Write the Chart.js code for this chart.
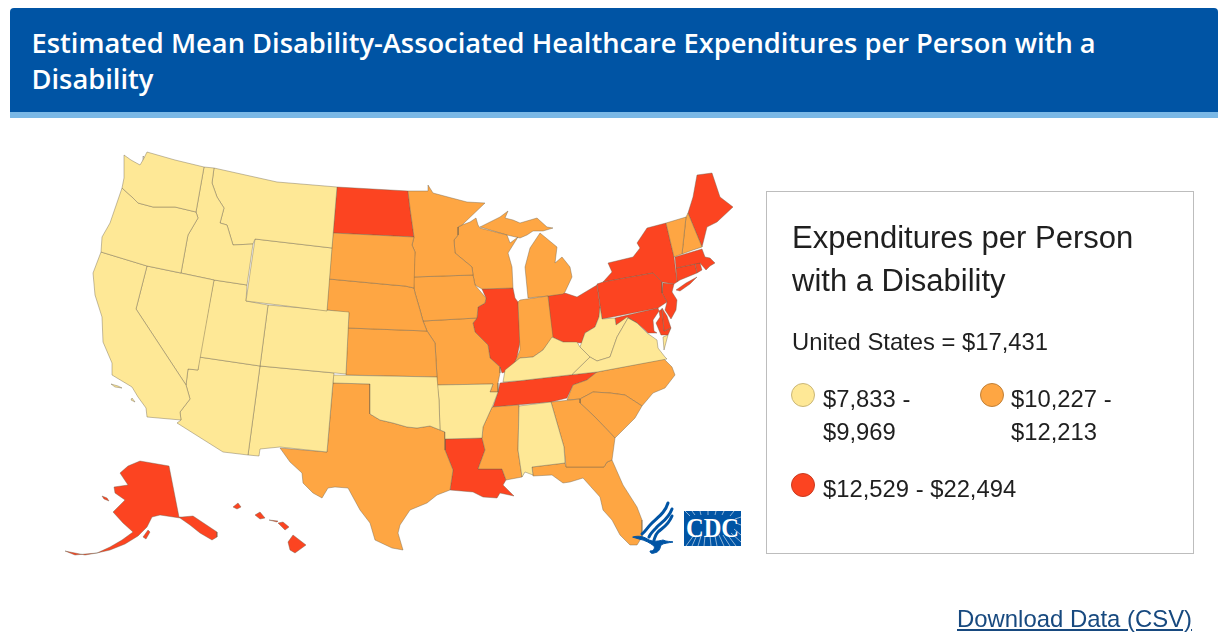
<!DOCTYPE html>
<html>
<head>
<meta charset="utf-8">
<title>Estimated Mean Disability-Associated Healthcare Expenditures per Person with a Disability</title>
<script src="https://cdn.jsdelivr.net/npm/chart.js@4/dist/chart.umd.min.js"></script>
<style>
html, body { margin: 0; padding: 0; background: #fff; width: 1228px; height: 642px; overflow: hidden; }
#map { position: absolute; left: 0; top: 0; width: 1228px; height: 642px; }
#banner { position: absolute; left: 10px; top: 8px; width: 1208px; height: 104px; background: #0054a4; border-bottom: 6px solid #7ab8e6; border-radius: 4px 4px 0 0; color: #fff; font: 600 27.3px/36px "Open Sans", sans-serif; }
#banner div { position: absolute; left: 21.5px; top: 17px; width: 1130px; }
#legend { position: absolute; left: 766px; top: 191px; width: 426px; height: 361px; border: 1px solid #bdbdbd; color: #1f1f1f; font-family: "Liberation Sans", sans-serif; }
#legendTitle { position: absolute; left: 25px; top: 24px; font-size: 31px; line-height: 43px; white-space: nowrap; }
#usValue { position: absolute; left: 25px; top: 135px; font-size: 23.8px; line-height: 30px; white-space: nowrap; }
.item { position: absolute; font-size: 23.8px; line-height: 33px; white-space: nowrap; }
.dot { position: absolute; width: 22px; height: 22px; border-radius: 50%; border: 1px solid; }
#download { position: absolute; left: 957px; top: 604px; font: 23.9px/30px "Liberation Sans", sans-serif; color: #17497f; text-decoration: underline; white-space: nowrap; }
#eagle { position: absolute; left: 625px; top: 495px; }
#cdc { position: absolute; left: 684px; top: 511px; }
</style>
</head>
<body>
<canvas id="map" width="1228" height="642"></canvas>
<div id="banner"><div>Estimated Mean Disability-Associated Healthcare Expenditures per Person with a Disability</div></div>
<div id="legend">
	<div id="legendTitle">Expenditures per Person<br>with a Disability</div>
	<div id="usValue">United States = $17,431</div>
	<span class="dot" style="left:24px;top:191px;background:#fee896;border-color:#c9b678"></span>
	<div class="item" style="left:56px;top:190px">$7,833 -<br>$9,969</div>
	<span class="dot" style="left:213px;top:191px;background:#fea643;border-color:#c08038"></span>
	<div class="item" style="left:244px;top:190px">$10,227 -<br>$12,213</div>
	<span class="dot" style="left:24px;top:281px;background:#fc4421;border-color:#c83a20"></span>
	<div class="item" style="left:56px;top:280px">$12,529 - $22,494</div>
</div>
<a id="download">Download Data (CSV)</a>
<svg id="eagle" width="60" height="65" viewBox="0 0 60 65" fill="none" stroke="#0054a4" stroke-linecap="round">
	<path d="M43 8C40 18 33 22 26 29C22 33 20 37 17 39" stroke-width="3"/>
	<path d="M47 14C43 25 36 27 31 33C27 37 25 39 24 42" stroke-width="3"/>
	<path d="M47 21C43 31 37 33 33 37C30 40 30 43 29 45" stroke-width="3"/>
	<path d="M8 42C14 40 20 42 24 45C30 47 34 46 38 45C42 47 45 46 48 47C43 48 39 48 36 50C35 53 35 57 29 58C27 59 25 58 25 56C29 56 30 53 29 51C25 48 20 45 14 44Z" fill="#0054a4" stroke-width="1"/>
</svg>
<svg id="cdc" width="57" height="35" viewBox="0 0 57 35">
	<rect width="57" height="35" fill="#0054a4"/>
	<g stroke="#fff" stroke-width="0.7" opacity="0.8">
		<path d="M2 35L10 24M8 35L13 24M14 35L17 25M20 35L21 25M27 35L26 25M33 35L31 25M40 35L35 24M46 35L39 24M52 35L43 23M57 31L47 22M57 24L50 18M57 14L52 12M57 6L51 8M50 0L46 5M40 0L38 4M32 0L31 4M24 0L24 4M16 0L17 4M8 0L11 4M1 0L6 5"/>
	</g>
	<text x="28.5" y="26" text-anchor="middle" fill="#fff" font-weight="bold" font-family="Liberation Serif, serif" font-size="27" textLength="53" lengthAdjust="spacingAndGlyphs">CDC</text>
</svg>
<script>
// state outlines in map units
var WA = [[124,155],[131,160],[140,165],[143,160],[147,152],[175,160],[204,167],[196,212],[175,207],[153,207],[138,203],[132,197],[122,188],[124,178]];
var Puget = [[143,156],[147,160],[146,170],[140,179],[136,177],[139,171],[143,165]];
var OR = [[122,188],[132,197],[138,203],[153,207],[175,207],[196,212],[198,218],[188,235],[187,240],[181,273],[147,266],[101,252],[102,237],[110,223]];
var CA = [[101,252],[147,266],[136,309],[186,385],[190,399],[180,412],[181,420],[147,417],[146,408],[138,397],[132,387],[112,375],[112,363],[103,342],[102,317],[95,295],[93,273]];
var NV = [[147,266],[214,280],[198,370],[188,369],[186,385],[136,309]];
var ID = [[204,167],[214,168],[212,183],[217,197],[224,208],[220,223],[227,225],[233,245],[253,244],[247,285],[214,280],[181,273],[187,240],[188,235],[198,218],[196,212]];
var MT = [[214,168],[277,182],[337,187],[332,248],[255,239],[253,244],[233,245],[227,225],[220,223],[224,208],[217,197],[212,183]];
var WY = [[255,239],[332,248],[327,311],[246,301]];
var UT = [[214,280],[247,285],[246,301],[268,305],[260,366],[199,357]];
var CO = [[268,305],[349,312],[346,374],[260,366]];
var AZ = [[199,357],[260,366],[248,455],[223,452],[177,423],[181,420],[180,412],[190,399],[186,385],[188,369],[198,370]];
var NM = [[260,366],[334,373],[333,382],[327,452],[280,447],[260,449],[259,456],[248,455]];
var ND = [[337,187],[408,191],[410,208],[414,237],[333,233]];
var SD = [[333,233],[414,237],[412,245],[415,252],[414,288],[405,286],[393,285],[329,279]];
var NE = [[329,279],[393,285],[405,286],[414,288],[415,293],[420,310],[423,321],[427,331],[348,328],[349,313],[327,310]];
var KS = [[348,328],[427,331],[435,343],[437,377],[346,375]];
var OK = [[333,375],[437,377],[439,400],[440,430],[430,426],[417,428],[407,427],[393,423],[380,420],[370,414],[370,384],[333,383]];
var TX = [[333,383],[370,384],[370,414],[380,420],[393,423],[407,427],[417,428],[430,426],[445,432],[445,450],[453,470],[450,490],[437,495],[427,503],[410,510],[400,525],[398,533],[403,550],[392,548],[375,540],[370,523],[360,510],[348,488],[335,487],[328,488],[322,498],[313,493],[303,483],[302,473],[290,462],[280,448],[327,452]];
var MN = [[408,191],[428,191],[428,185],[433,193],[448,197],[467,202],[485,203],[462,225],[458,227],[458,235],[454,240],[455,253],[472,267],[473,275],[413,277],[415,252],[412,245],[414,237],[410,208]];
var IA = [[413,277],[473,275],[475,285],[486,298],[485,303],[478,307],[477,318],[423,321],[420,310],[415,293],[414,288]];
var MO = [[423,321],[477,318],[473,323],[475,332],[488,345],[490,358],[500,367],[500,373],[498,383],[498,392],[490,392],[493,384],[437,385],[437,377],[435,343],[427,331]];
var AR = [[437,385],[493,384],[490,392],[498,392],[493,405],[483,427],[482,438],[445,439],[445,432],[440,430],[439,400]];
var LA = [[445,439],[482,438],[485,450],[478,469],[502,469],[506,480],[503,485],[514,496],[500,493],[497,498],[483,497],[473,492],[450,490],[453,470],[445,450]];
var MS = [[492,407],[519,405],[518,450],[522,477],[506,480],[502,469],[478,469],[485,450],[482,438],[483,427]];
var AL = [[519,406],[551,402],[564,447],[565,463],[532,467],[533,475],[525,472],[522,477],[518,450]];
var TN = [[500,383],[570,375],[597,372],[587,380],[573,385],[567,398],[551,402],[493,407],[498,392]];
var GA = [[551,402],[580,399],[580,403],[595,417],[615,438],[612,460],[607,462],[604,467],[566,467],[564,447]];
var FL = [[532,467],[565,463],[566,467],[604,467],[607,462],[612,460],[623,485],[637,507],[642,520],[642,537],[637,545],[630,545],[620,535],[612,520],[603,510],[600,497],[583,478],[570,482],[563,483],[552,475],[533,476]];
var SC = [[580,399],[593,392],[610,393],[625,395],[642,406],[635,418],[623,430],[615,438],[595,417],[580,403]];
var NC = [[597,372],[664,359],[672,367],[675,375],[665,388],[653,393],[642,406],[625,395],[610,393],[593,392],[580,399],[567,400],[573,385],[587,380]];
var VA = [[667,359],[597,372],[572,374.7],[590,357],[597,361],[610,357],[617,337],[628,318],[637,323],[647,333],[657,340],[658,348],[665,357]];
var VAshore = [[663,337],[668,335],[664,350]];
var WV = [[600,307],[602,319],[615,318],[616,325],[627,317],[637,323],[628,318],[617,337],[610,357],[597,361],[590,357],[580,347],[585,333],[595,327],[599,317]];
var KY = [[503,382],[505,370],[515,362],[520,358],[533,357],[543,350],[552,337],[563,342],[577,342],[580,347],[590,357],[572,374.7],[520,380.7]];
var IN = [[520,300],[548,296],[553,337],[543,350],[533,357],[520,358],[515,362],[520,350],[518,302]];
var IL = [[482,289],[513,288],[515,298],[518,302],[520,342],[517,357],[515,362],[512,370],[502,373],[500,367],[490,358],[488,345],[475,332],[473,323],[477,318],[478,307],[485,303],[486,298]];
var WI = [[458,227],[462,225],[470,222],[476,218],[478,225],[480,228],[507,235],[510,243],[518,237],[508,253],[512,267],[513,288],[482,289],[475,285],[473,275],[472,267],[455,253],[454,240],[458,235]];
var MIupper = [[480,227],[490,222],[500,217],[508,211],[505,218],[513,220],[520,223],[537,218],[547,227],[553,228],[543,231],[533,231],[527,235],[520,238],[507,235]];
var MIlower = [[540,233],[557,247],[555,263],[562,257],[570,267],[572,277],[565,292],[563,294],[548,296],[528,298],[525,267],[530,248]];
var OH = [[548,296],[565,293],[577,297],[597,285],[600,307],[599,317],[595,327],[585,333],[582,343],[563,342],[552,337]];
var PA = [[597,284],[603,282],[653,273],[662,282],[662,293],[667,302],[658,308],[602,319]];
var NY = [[603,282],[612,272],[608,263],[633,257],[640,248],[637,243],[647,228],[666,223],[674,257],[677,282],[674,284],[662,282],[653,273]];
var LongIsland = [[676,290],[686,283],[697,277],[690,284],[680,291]];
var VT = [[666,223],[686,217],[682,254],[674,257]];
var NH = [[686,217],[688,213],[702,247],[693,250],[682,254]];
var ME = [[688,213],[693,197],[697,175],[712,173],[720,197],[733,207],[717,222],[707,227],[702,247]];
var MA = [[675,257],[702,249],[705,257],[710,258],[715,263],[710,266],[706,270],[700,263],[676,268]];
var RI = [[695,263],[700,263],[702,270],[697,273]];
var CT = [[676,268],[695,264],[697,273],[680,280],[677,282]];
var NJ = [[663,283],[674,284],[672,292],[677,300],[676,310],[671,319],[665,310],[667,302],[662,293]];
var DE = [[662,308],[667,316],[671,328],[664,331]];
var MDwest = [[615,318],[658,308],[659,311],[653,320],[654,331],[657,333],[648,333],[645,330],[637,323],[628,318],[616,325]];
var MDeast = [[659,311],[662,309],[664,331],[671,328],[668,335],[661,335],[656,323],[660,317]];
var AK = [[140,461],[169,466],[179,517],[182,517],[193,516],[217,532],[217,537],[212,540],[200,533],[190,525],[180,518],[160,515],[152,517],[147,527],[138,536],[125,544],[110,550],[97,553],[110,547],[122,540],[133,532],[123,523],[113,512],[125,500],[115,493],[114,487],[128,485],[120,473],[128,466]];
var AKtail = [[65,551],[75,553],[85,555],[97,553],[85,554],[75,555]];
var AKisland = [[102,496],[107,498],[109,501],[104,499]];
var AKkodiak = [[143,537],[148,530],[150,532],[146,539]];
var HIbig = [[293,535],[306,545],[295,553],[290,550],[288,542]];
var HImaui = [[278,523],[283,522],[289,527],[285,530]];
var HImolokai = [[269,520],[278,521],[277,522]];
var HIoahu = [[255,515],[260,512],[265,518],[260,519]];
var HIkauai = [[233,507],[238,503],[241,507],[237,509]];
var CAisland1 = [[111,384],[118,386],[122,388],[115,387]];
var CAisland2 = [[132,398],[135,402],[131,400]];

var lowStates = [WA, OR, CA, NV, ID, MT, WY, UT, CO, AZ, NM, OK, AR, AL, VA, VAshore, WV, KY, CAisland1, CAisland2];
var midStates = [SD, NE, KS, TX, MN, IA, MO, MS, GA, FL, SC, NC, IN, WI, MIupper, MIlower, VT, NH];
var highStates = [ND, LA, TN, IL, OH, PA, NY, LongIsland, ME, MA, RI, CT, NJ, DE, MDwest, MDeast, AK, AKtail, AKisland, AKkodiak, HIbig, HImaui, HImolokai, HIoahu, HIkauai];
var lakes = [Puget];

var lowColor = '#fee896';
var midColor = '#fea643';
var highColor = '#fc4421';
var lakeColor = '#dedbcf';

var datasets = [];

//one filled line per state part
function addStates(list, color) {
	for (var i = 0; i < list.length; i++) {
		var pts = [];
		for (var j = 0; j < list[i].length; j++) {
			pts.push({x: list[i][j][0], y: list[i][j][1]});
		}
		pts.push({x: list[i][0][0], y: list[i][0][1]});
		datasets.push({
			data: pts,
			showLine: true,
			fill: 'shape',
			backgroundColor: color,
			borderColor: 'rgba(105,95,75,0.5)',
			borderWidth: 0.8,
			pointRadius: 0,
			tension: 0
		});
	}
}
addStates(lowStates, lowColor);
addStates(midStates, midColor);
addStates(highStates, highColor);
addStates(lakes, lakeColor);

var scatterMap = new Chart(document.getElementById('map'), {
	type: 'scatter',
	data: { datasets: datasets },
	options: {
		responsive: false,
		animation: false,
		layout: { padding: 0 },
		plugins: { legend: { display: false }, tooltip: { enabled: false } },
		scales: {
			x: { type: 'linear', display: false, min: 0, max: 1228 },
			y: { type: 'linear', display: false, min: 0, max: 642, reverse: true }
		}
	}
});
</script>
</body>
</html>
